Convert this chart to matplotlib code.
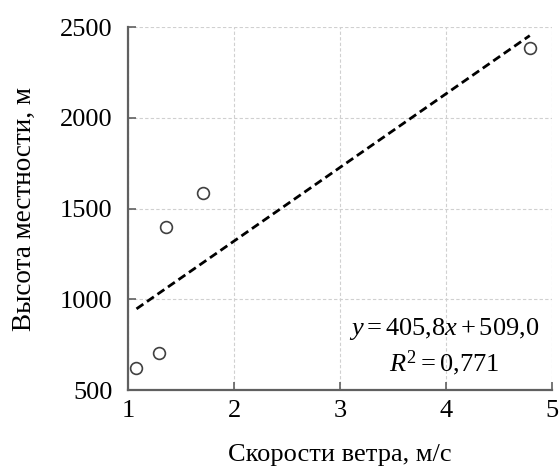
import matplotlib
matplotlib.use('Agg')
import matplotlib.pyplot as plt
import numpy as np

# wind speed (m/s) and terrain height (m)
wind_speed = [1.08, 1.29, 1.36, 1.71, 4.79]
height = [623, 702, 1400, 1584, 2386]
slope = 405.8
intercept = 509.0
r2 = 0.771

x_ticks = [1, 2, 3, 4, 5]
y_ticks = [500, 1000, 1500, 2000, 2500]

plt.rcParams['font.family'] = 'Liberation Serif'
plt.rcParams['mathtext.fontset'] = 'custom'
plt.rcParams['mathtext.rm'] = 'Liberation Serif'
plt.rcParams['mathtext.it'] = 'Liberation Serif:italic'

fs = 19

fig = plt.figure(figsize=(5.59, 4.66), dpi=100)
ax = fig.add_axes([0.229, 0.163, 0.7585, 0.779])

ax.scatter(wind_speed, height, s=72, facecolors='white', edgecolors='#404040',
           linewidths=1.2, zorder=3)

xs = np.array([min(wind_speed), max(wind_speed)])
ax.plot(xs, slope * xs + intercept, color='black', lw=2,
        linestyle=(0, (3, 1.6)), zorder=2)

ax.set_xlim(1, 5)
ax.set_ylim(500, 2500)
ax.set_xticks(x_ticks)
ax.set_yticks(y_ticks)
ax.grid(True, color='#d0d0d0', linestyle=(0, (3, 2)), linewidth=0.8)
ax.set_axisbelow(True)

for s in ['top', 'right']:
    ax.spines[s].set_visible(False)
for s in ['left', 'bottom']:
    ax.spines[s].set_color('#606060')
    ax.spines[s].set_linewidth(1.6)

ax.tick_params(direction='in', length=6, width=1.2, color='#606060',
               labelsize=fs)
ax.tick_params(axis='y', pad=11)
ax.tick_params(axis='x', pad=7)

ax.set_xlabel('Скорости ветра, м/с', fontsize=fs, labelpad=16)
ax.set_ylabel('Высота местности, м', fontsize=19.5, labelpad=17)

line1 = '$y = %s x + %s$' % (('%.1f' % slope).replace('.', '{,}'),
                             ('%.1f' % intercept).replace('.', '{,}'))
line2 = '$R^2 = %s$' % ('%.3f' % r2).replace('.', '{,}')
ax.text(3.98, 803, line1, fontsize=fs, ha='center', va='baseline')
ax.text(3.98, 605, line2, fontsize=fs, ha='center', va='baseline')

fig.savefig('out.png', dpi=100)
